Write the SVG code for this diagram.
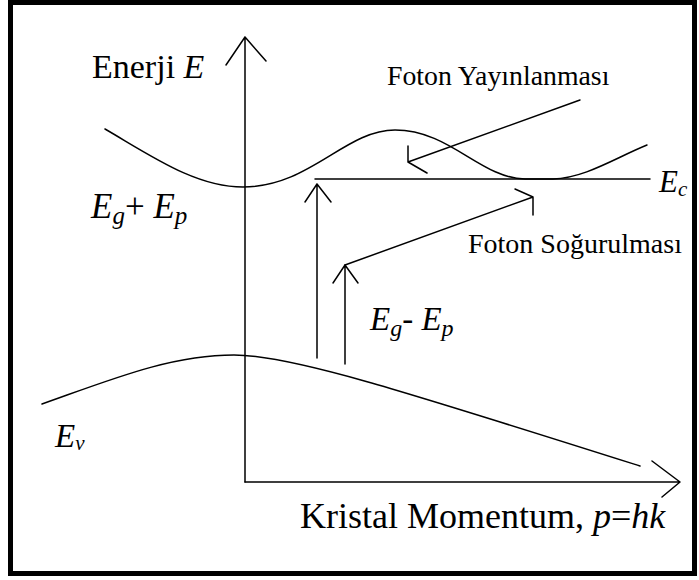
<svg xmlns="http://www.w3.org/2000/svg" width="699" height="580" viewBox="0 0 699 580">
<style>
.ln{fill:none;stroke:#000;stroke-width:1.5;stroke-linecap:round;stroke-linejoin:round}
.t{font-family:"Liberation Serif","Times New Roman",serif;fill:#000}
.i{font-style:italic}
</style>
<rect x="0" y="0" width="699" height="580" fill="#fff"/>
<rect id="frame" x="10.5" y="2.5" width="684" height="571" fill="none" stroke="#000" stroke-width="5"/>
<g id="axes" class="ln">
  <path d="M245,482 L245,37 M226,65 L245,37 L266,61"/>
  <path d="M245,482 L680,482 M652,461 L680,482 L662,497"/>
</g>
<g id="conduction-band">
  <path class="ln" d="M105,129 C150,155 195,187 243,187 C310,187 345,130 395,130 C450,130 480,178 525,179 L553,179 C585,178 615,158 647,145"/>
  <path class="ln" d="M315,179 L650,179"/>
</g>
<g id="valence-band">
  <path class="ln" d="M42,404 C110,380 170,355 234,355 C290,355 400,390 640,466"/>
</g>
<g id="connectors" class="ln">
  <path d="M317,358 L317,184 M305,202 L317,184 L331,202"/>
  <path d="M345,364 L345,265 M333,283 L345,265 L358,283"/>
  <path d="M345,265 L533,197 M515,189 L533,197 L533,215"/>
  <path d="M580,100 L408,162 M408,146 L408,162 L427,173"/>
</g>
<g id="labels">
  <text class="t" x="92" y="78" font-size="34">Enerji <tspan class="i">E</tspan></text>
  <text class="t i" x="91" y="218" font-size="35">E<tspan font-size="25" dy="6">g</tspan><tspan font-style="normal" dy="-6">+ </tspan>E<tspan font-size="25" dy="6">p</tspan></text>
  <text class="t" x="387" y="85" font-size="27.8">Foton Yayınlanması</text>
  <text class="t" x="468" y="253" font-size="28">Foton Soğurulması</text>
  <text class="t i" x="370" y="330" font-size="33">E<tspan font-size="24" dy="6">g</tspan><tspan font-style="normal" dy="-6">- </tspan>E<tspan font-size="24" dy="6">p</tspan></text>
  <text class="t i" x="55" y="447" font-size="33">E<tspan font-size="21" dy="3">v</tspan></text>
  <text class="t i" x="659" y="192" font-size="31">E<tspan font-size="21" dy="4">c</tspan></text>
  <text class="t" x="300" y="528" font-size="36">Kristal Momentum, <tspan class="i">p</tspan>=<tspan class="i">hk</tspan></text>
</g>
</svg>
